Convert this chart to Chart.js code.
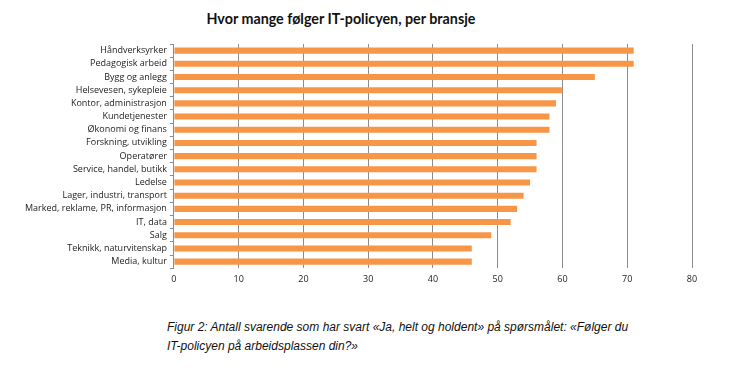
<!DOCTYPE html>
<html>
<head>
<meta charset="utf-8">
<script src="https://cdn.jsdelivr.net/npm/chart.js@4"></script>
<style>
  body { margin: 0; background: #fff; }
  #title {
    position: absolute; left: 0; top: 10px; width: 682px; text-align: center;
    font-family: Lato, sans-serif; font-weight: bold; font-size: 14.3px; color: #111;
  }
  #wrap { position: absolute; left: 0; top: 0; width: 705px; height: 291px; }
  #caption {
    position: absolute; left: 167px; top: 318px; width: 470px;
    font-family: "Liberation Sans", Arial, sans-serif; font-style: italic;
    font-size: 12px; line-height: 19px; color: #111;
  }
</style>
</head>
<body>
<div id="title">Hvor mange følger IT-policyen, per bransje</div>
<div id="wrap"><canvas id="chart"></canvas></div>
<div id="caption">Figur 2: Antall svarende som har svart «Ja, helt og holdent» på spørsmålet: «Følger du IT-policyen på arbeidsplassen din?»</div>
<script>
const bransjer = ["Håndverksyrker", "Pedagogisk arbeid", "Bygg og anlegg", "Helsevesen, sykepleie",
  "Kontor, administrasjon", "Kundetjenester", "Økonomi og finans", "Forskning, utvikling",
  "Operatører", "Service, handel, butikk", "Ledelse", "Lager, industri, transport",
  "Marked, reklame, PR, informasjon", "IT, data", "Salg", "Teknikk, naturvitenskap", "Media, kultur"];
const antall = [71, 71, 65, 60, 59, 58, 58, 56, 56, 56, 55, 54, 53, 52, 49, 46, 46];

var ctx = document.getElementById("chart").getContext('2d');
var myChart = new Chart(ctx, {
  type: 'bar',
  data: {
    labels: bransjer,
    datasets: [{
      label: "Antall",
      backgroundColor: "#F79646",
      borderWidth: 0,
      barPercentage: 0.46,
      categoryPercentage: 1,
      data: antall
    }]
  },
  options: {
    indexAxis: 'y',
    responsive: true,
    maintainAspectRatio: false,
    animation: false,
    layout: { padding: { left: 22, right: 13, top: 44, bottom: 0 } },
    plugins: {
      legend: { display: false },
      tooltip: { enabled: false }
    },
    scales: {
      x: {
        min: 0,
        max: 80,
        ticks: { stepSize: 10, color: "#222", font: { family: "Open Sans", size: 9 }, padding: 6 },
        grid: { color: "#8c8c8c", drawTicks: false, lineWidth: 1 },
        border: { display: false }
      },
      y: {
        offset: true,
        ticks: { color: "#222", font: { family: "Open Sans", size: 9 }, padding: 3, autoSkip: false },
        grid: { drawOnChartArea: false, offset: true, tickLength: 4, color: "#8c8c8c" },
        border: { display: true, color: "#8c8c8c" }
      }
    }
  }
});
</script>
</body>
</html>
